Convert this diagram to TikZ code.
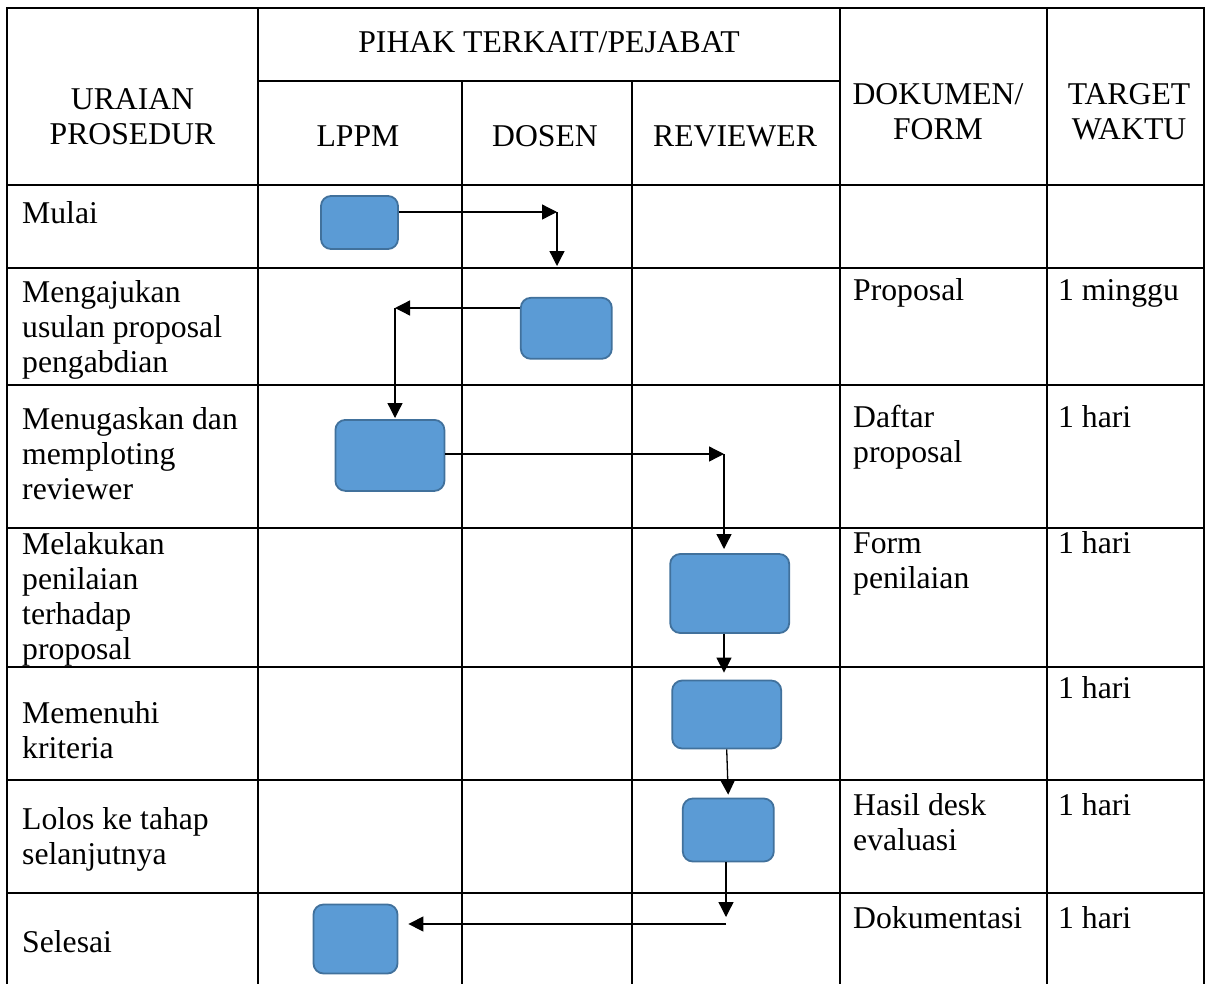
\documentclass[tikz,border=0pt]{standalone}
\usepackage{fontspec}
\setmainfont{Liberation Serif}
\usepackage{tikz}
\usetikzlibrary{arrows.meta,calc}

\definecolor{boxfill}{HTML}{5B9BD5}
\definecolor{boxedge}{HTML}{41719C}
\newcommand{\st}{\rule[-7pt]{0pt}{35pt}}

\begin{document}
\begin{tikzpicture}[
    x=1pt, y=-1pt,
    every node/.style={font=\fontsize{31.7}{35}\selectfont},
    grid/.style={line width=2.2pt, black, line cap=rect},
    stepbox/.style={rectangle, draw=boxedge, fill=boxfill, line width=1.8pt, rounded corners=10pt, inner sep=0pt},
    arrow/.style={-{Triangle[length=15pt,width=15pt]}, line width=1.3pt},
    head/.style={align=center, inner sep=0pt},
    desc/.style={align=left, anchor=west, inner sep=0pt},
    cell/.style={align=left, anchor=north west, inner sep=0pt}
]
\useasboundingbox (0,0) rectangle (1207,983);

% Table lines
\draw[grid] (7,8) -- (1204,8);
\draw[grid] (258,81) -- (840,81);
\draw[grid] (7,185) -- (1204,185);
\draw[grid] (7,268) -- (1204,268);
\draw[grid] (7,385) -- (1204,385);
\draw[grid] (7,528) -- (1204,528);
\draw[grid] (7,667) -- (1204,667);
\draw[grid] (7,780) -- (1204,780);
\draw[grid] (7,893) -- (1204,893);
\draw[grid] (7,8) -- (7,990);
\draw[grid] (258,8) -- (258,990);
\draw[grid] (462,81) -- (462,990);
\draw[grid] (632,81) -- (632,990);
\draw[grid] (840,8) -- (840,990);
\draw[grid] (1047,8) -- (1047,990);
\draw[grid] (1204,8) -- (1204,990);

% Header
\node[head] (h_uraian) at (132.5,116) {\st URAIAN\\\st PROSEDUR};
\node[head] (h_pihak) at (549,42) {\st PIHAK TERKAIT/PEJABAT};
\node[head] (h_lppm) at (358,136) {\st LPPM};
\node[head] (h_dosen) at (545,136) {\st DOSEN};
\node[head] (h_reviewer) at (735,136) {\st REVIEWER};
\node[head] (h_dokumen) at (938,111) {\st DOKUMEN/\\\st FORM};
\node[head] (h_target) at (1129,111) {\st TARGET\\\st WAKTU};

% Uraian prosedur
\node[desc] (u_mulai) at (22,213) {\st Mulai};
\node[desc] (u_ajukan) at (22,326.5) {\st Mengajukan\\\st usulan proposal\\\st pengabdian};
\node[desc] (u_tugas) at (22,454) {\st Menugaskan dan\\\st memploting\\\st reviewer};
\node[desc] (u_nilai) at (22,596) {\st Melakukan\\\st penilaian\\\st terhadap\\\st proposal};
\node[desc] (u_kriteria) at (22,730) {\st Memenuhi\\\st kriteria};
\node[desc] (u_lolos) at (22,836) {\st Lolos ke tahap\\\st selanjutnya};
\node[desc] (u_selesai) at (22,942) {\st Selesai};

% Dokumen/form
\node[cell] (d_proposal) at (853,272.3) {\st Proposal};
\node[cell] (d_daftar) at (853,399.3) {\st Daftar\\\st proposal};
\node[cell] (d_form) at (853,525.3) {\st Form\\\st penilaian};
\node[cell] (d_hasil) at (853,787.3) {\st Hasil desk\\\st evaluasi};
\node[cell] (d_dok) at (853,900) {\st Dokumentasi};

% Target waktu
\node[cell] (t_ajukan) at (1058,272.3) {\st 1 minggu};
\node[cell] (t_tugas) at (1058,399.3) {\st 1 hari};
\node[cell] (t_nilai) at (1058,525.3) {\st 1 hari};
\node[cell] (t_kriteria) at (1058,670.3) {\st 1 hari};
\node[cell] (t_lolos) at (1058,787.3) {\st 1 hari};
\node[cell] (t_selesai) at (1058,900) {\st 1 hari};

% Flow boxes
\node[stepbox, minimum width=77pt, minimum height=53pt] (mulai) at (359.5,222.5) {};
\node[stepbox, minimum width=91pt, minimum height=61pt] (ajukan) at (566.3,328.3) {};
\node[stepbox, minimum width=109pt, minimum height=71pt] (tugaskan) at (389.9,455.4) {};
\node[stepbox, minimum width=119pt, minimum height=79pt] (nilai) at (729.7,593.5) {};
\node[stepbox, minimum width=109pt, minimum height=68pt] (kriteria) at (726.7,714.5) {};
\node[stepbox, minimum width=91pt, minimum height=63pt] (lolos) at (728.3,830) {};
\node[stepbox, minimum width=84pt, minimum height=69pt] (selesai) at (355.5,939) {};

% Bend points
\coordinate (b1) at (557,212);
\coordinate (b2) at (557,266);
\coordinate (b3) at (395,308);
\coordinate (b4) at (395,418);
\coordinate (b5) at (724,454);
\coordinate (b6) at (724,549);
\coordinate (b7) at (726,917);
\coordinate (b8) at (726,924);

% Arrows
\draw[arrow] (mulai.east |- b1) -- (b1);
\draw[arrow] (b1) -- (b2);
\draw[arrow] (ajukan.west |- b3) -- (b3);
\draw[arrow] (b3) -- (b4);
\draw[arrow] (tugaskan.east |- b5) -- (b5);
\draw[arrow] (b5) -- (b6);
\draw[arrow, shorten >=7pt] (nilai.south -| b5) -- (kriteria.north -| b5);
\draw[arrow, shorten >=3pt] (kriteria.south) -- (lolos.north);
\draw[arrow] (lolos.south -| b7) -- (b7);
\draw[arrow, shorten >=10pt] (b8) -- (selesai.east |- b8);

\end{tikzpicture}
\end{document}
